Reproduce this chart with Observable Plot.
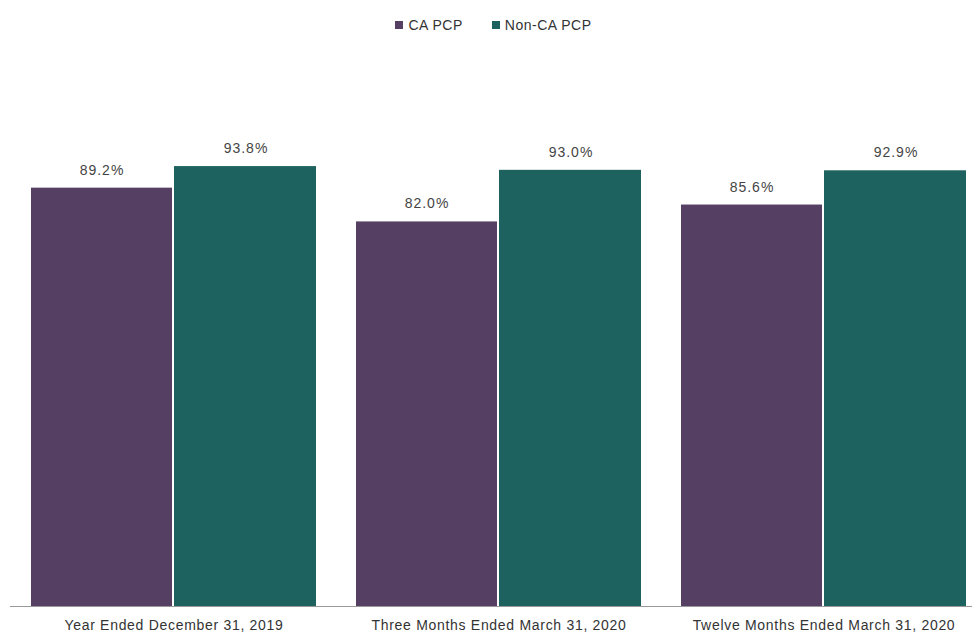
<!DOCTYPE html>
<html>
<head>
<meta charset="utf-8">
<script src="https://cdn.jsdelivr.net/npm/d3@7"></script>
<script src="https://cdn.jsdelivr.net/npm/@observablehq/plot@0.6"></script>
<style>
  body { margin: 0; background: #fff; font-family: "Liberation Sans", Arial, sans-serif; overflow: hidden; }
  #legend { height: 50px; display: flex; justify-content: center; align-items: center; gap: 29px; font-size: 14px; letter-spacing: 0.5px; color: #333; padding-left: 15px; box-sizing: border-box; }
  #legend span.sw { display: inline-block; width: 8px; height: 8px; margin-right: 5px; vertical-align: 1px; }
  #chart svg .vals text { letter-spacing: 1px; }
  #chart svg g[aria-label="x-axis tick label"] text { letter-spacing: 0.7px; }
</style>
</head>
<body>
<div id="legend"></div>
<div id="chart"></div>
<script>
const periods = ["Year Ended December 31, 2019", "Three Months Ended March 31, 2020", "Twelve Months Ended March 31, 2020"];
const series = ["CA PCP", "Non-CA PCP"];
const caValues = [89.2, 82.0, 85.6];
const nonCaValues = [93.8, 93.0, 92.9];
const colors = ["#553f63", "#1d625f"];

const caData = periods.map((p, i) => ({period: p, series: series[0], value: caValues[i]}));
const nonData = periods.map((p, i) => ({period: p, series: series[1], value: nonCaValues[i]}));

const legend = document.getElementById("legend");
series.forEach((s, i) => {
  const item = document.createElement("div");
  item.innerHTML = `<span class="sw" style="background:${colors[i]}"></span>${s}`;
  legend.appendChild(item);
});

const fmt = d => d.value.toFixed(1) + "%";

const chart = Plot.plot({
  width: 972,
  height: 585,
  marginTop: 87,
  marginBottom: 29,
  marginLeft: 10,
  marginRight: 0,
  style: {fontFamily: "'Liberation Sans', Arial, sans-serif", background: "#fff"},
  x: {domain: periods, paddingInner: 0.123, paddingOuter: 0.039, align: 0.78, label: null},
  y: {domain: [0, 100], axis: null},
  marks: [
    Plot.barY(caData, {x: "period", y: "value", fill: colors[0], insetRight: 144}),
    Plot.barY(nonData, {x: "period", y: "value", fill: colors[1], insetLeft: 143}),
    Plot.text(caData, {x: "period", y: "value", text: fmt, dx: -72, dy: -18, fontSize: 14, fill: "#444", className: "vals"}),
    Plot.text(nonData, {x: "period", y: "value", text: fmt, dx: 72, dy: -18, fontSize: 14, fill: "#444", className: "vals"}),
    Plot.ruleY([0], {stroke: "#999", strokeWidth: 1}),
    Plot.axisX({tickSize: 0, tickPadding: 14, fontSize: 14, fill: "#333", label: null})
  ]
});
document.getElementById("chart").appendChild(chart);
</script>
</body>
</html>
